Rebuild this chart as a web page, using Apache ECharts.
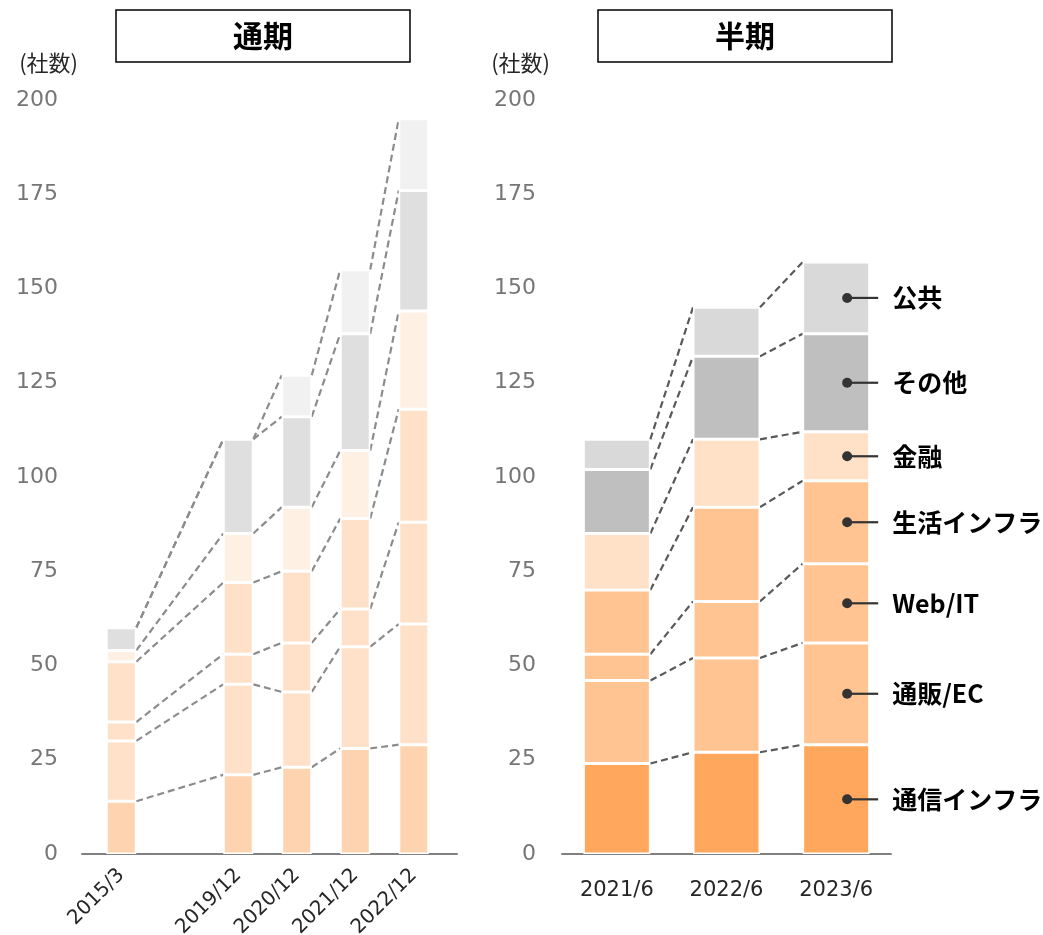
<!DOCTYPE html>
<html>
<head>
<meta charset="utf-8">
<script src="https://cdn.jsdelivr.net/npm/echarts@6/dist/echarts.min.js"></script>
<style>
    html, body { margin: 0; padding: 0; background: #fff; }
    #chart { width: 1043px; height: 935px; }
</style>
</head>
<body>
<div id="chart"></div>
<script>
// Categories
const leftCats = ['2015/3', '', '2019/12', '2020/12', '2021/12', '2022/12']
const rightCats = ['2021/6', '2022/6', '2023/6']
const segNames = ['通信インフラ', '通販/EC', 'Web/IT', '生活インフラ', '金融', 'その他', '公共']

// 通期 (left) values, bottom to top
const leftTelecom = [14, null, 21, 23, 28, 29]
const leftEc = [16, null, 24, 20, 27, 32]
const leftWeb = [5, null, 8, 13, 10, 27]
const leftLife = [16, null, 19, 19, 24, 30]
const leftFinance = [3, null, 13, 17, 18, 26]
const leftOther = [6, null, 25, 24, 31, 32]
const leftPublic = [0, null, 0, 11, 17, 19]

// 半期 (right) values
const rightTelecom = [24, 27, 29]
const rightEc = [22, 25, 27]
const rightWeb = [7, 15, 21]
const rightLife = [17, 25, 22]
const rightFinance = [15, 18, 13]
const rightOther = [17, 22, 26]
const rightPublic = [8, 13, 19]

const leftSeries = [leftTelecom, leftEc, leftWeb, leftLife, leftFinance, leftOther, leftPublic]
const rightSeries = [rightTelecom, rightEc, rightWeb, rightLife, rightFinance, rightOther, rightPublic]

const leftColors = ['#FDD4AF', '#FEE1C8', '#FEE1C8', '#FEE1C8', '#FFF0E4', '#DFDFDF', '#F1F1F1']
const rightColors = ['#FFA75C', '#FFC491', '#FFC491', '#FFC491', '#FFE1C7', '#BFBFBF', '#D9D9D9']

const leftBarWidth = 30
const rightBarWidth = 67
const numFont = 'DejaVu Sans'
const jpFont = 'Noto Sans CJK JP'

// cumulative tops per category
function cumulative(seriesList, nCats) {
    const out = []
    for (let c = 0; c < nCats; c++) {
        let sum = 0
        out.push(seriesList.map(s => {
            sum += s[c] || 0
            return sum
        }))
    }
    return out
}

const leftCum = cumulative(leftSeries, leftCats.length)
const rightCum = cumulative(rightSeries, rightCats.length)

function barSeries(list, colors, stack, xi, yi, width) {
    return list.map((data, k) => ({
        name: segNames[k],
        type: 'bar',
        stack: stack,
        xAxisIndex: xi,
        yAxisIndex: yi,
        barWidth: width,
        data: data,
        itemStyle: { color: colors[k], borderColor: '#fff', borderWidth: 1.5 },
        z: 3
    }))
}

function connectorSeries(xi, yi, cum, pairs, half, color) {
    return {
        type: 'custom',
        xAxisIndex: xi,
        yAxisIndex: yi,
        silent: true,
        z: 1,
        data: pairs,
        renderItem: (params, api) => {
            const a = api.value(0)
            const b = api.value(1)
            const children = []
            for (let k = 0; k < segNames.length; k++) {
                const p1 = api.coord([a, cum[a][k]])
                const p2 = api.coord([b, cum[b][k]])
                children.push({
                    type: 'line',
                    shape: { x1: p1[0] + half, y1: p1[1], x2: p2[0] - half, y2: p2[1] },
                    style: { stroke: color, lineWidth: 2.2, lineDash: [7, 4] }
                })
            }
            return { type: 'group', children: children }
        }
    }
}

// labels next to the last 半期 bar
const lastIdx = rightCats.length - 1
const annotationData = segNames.map((n, k) => {
    const lower = k === 0 ? 0 : rightCum[lastIdx][k - 1]
    return [lastIdx, (lower + rightCum[lastIdx][k]) / 2, k]
})

const annotationSeries = {
    type: 'custom',
    xAxisIndex: 2,
    yAxisIndex: 2,
    silent: true,
    z: 10,
    data: annotationData,
    renderItem: (params, api) => {
        const p = api.coord([api.value(0), api.value(1)])
        const x = p[0] + 11
        return {
            type: 'group',
            children: [
                { type: 'line', shape: { x1: x, y1: p[1], x2: x + 31, y2: p[1] }, style: { stroke: '#333', lineWidth: 2.2 } },
                { type: 'circle', shape: { cx: x, cy: p[1], r: 5 }, style: { fill: '#333' } },
                {
                    type: 'text',
                    x: x + 45,
                    y: p[1],
                    style: {
                        text: segNames[api.value(2)],
                        fill: '#000',
                        font: 'bold 25px "Noto Sans CJK JP"',
                        verticalAlign: 'middle',
                        align: 'left'
                    }
                }
            ]
        }
    }
}

const yAxisBase = {
    type: 'value',
    min: 0,
    max: 200,
    interval: 25,
    splitLine: { show: false },
    axisLine: { show: false },
    axisTick: { show: false }
}

const chartInstance = echarts.init(document.getElementById('chart'))

const titleStyle = { fontSize: 30, lineHeight: 30, fontWeight: 'bold', color: '#000', fontFamily: jpFont }

const option = {
    animation: false,
    title: [
        {
            text: '通期',
            left: 116,
            top: 10,
            borderColor: '#000',
            borderWidth: 1.5,
            padding: [11, 117],
            textStyle: titleStyle
        },
        {
            text: '半期',
            left: 598,
            top: 10,
            borderColor: '#000',
            borderWidth: 1.5,
            padding: [11, 117],
            textStyle: titleStyle
        }
    ],
    grid: [
        { left: 92, width: 351, top: 100, height: 754, outerBoundsMode: 'none' },
        { left: 82, width: 375, top: 100, height: 754, outerBoundsMode: 'none' },
        { left: 562, width: 329, top: 100, height: 754, outerBoundsMode: 'none' }
    ],
    xAxis: [
        {
            type: 'category',
            gridIndex: 0,
            data: leftCats,
            axisLine: { show: false },
            axisTick: { show: false },
            axisLabel: { rotate: 45, margin: 18, interval: 0, fontSize: 20, color: '#262626', fontFamily: numFont }
        },
        {
            type: 'value',
            gridIndex: 1,
            min: 0,
            max: 1,
            splitLine: { show: false },
            axisTick: { show: false },
            axisLabel: { show: false },
            axisLine: { show: true, lineStyle: { color: '#808080', width: 2 } }
        },
        {
            type: 'category',
            gridIndex: 2,
            data: rightCats,
            axisTick: { show: false },
            axisLine: { show: true, lineStyle: { color: '#808080', width: 2 } },
            axisLabel: { margin: 26, fontSize: 21, color: '#262626', fontFamily: numFont }
        }
    ],
    yAxis: [
        Object.assign({}, yAxisBase, { gridIndex: 0, show: false }),
        Object.assign({}, yAxisBase, {
            gridIndex: 1,
            name: '(社数)',
            nameLocation: 'end',
            nameGap: 26,
            nameTextStyle: { fontSize: 22, color: '#262626', fontFamily: jpFont, align: 'right', padding: [0, 4, 0, 0] },
            axisLabel: { margin: 24, fontSize: 22, color: '#767676', fontFamily: numFont }
        }),
        Object.assign({}, yAxisBase, {
            gridIndex: 2,
            name: '(社数)',
            nameLocation: 'end',
            nameGap: 26,
            nameTextStyle: { fontSize: 22, color: '#262626', fontFamily: jpFont, align: 'right', padding: [0, 12, 0, 0] },
            axisLabel: { margin: 26, fontSize: 22, color: '#767676', fontFamily: numFont }
        })
    ],
    series: [
        ...barSeries(leftSeries, leftColors, 'left', 0, 0, leftBarWidth),
        ...barSeries(rightSeries, rightColors, 'right', 2, 2, rightBarWidth),
        connectorSeries(0, 0, leftCum, [[0, 2], [2, 3], [3, 4], [4, 5]], leftBarWidth / 2, '#8C8C8C'),
        connectorSeries(2, 2, rightCum, [[0, 1], [1, 2]], rightBarWidth / 2, '#595959'),
        annotationSeries
    ]
}

chartInstance.setOption(option)
</script>
</body>
</html>
